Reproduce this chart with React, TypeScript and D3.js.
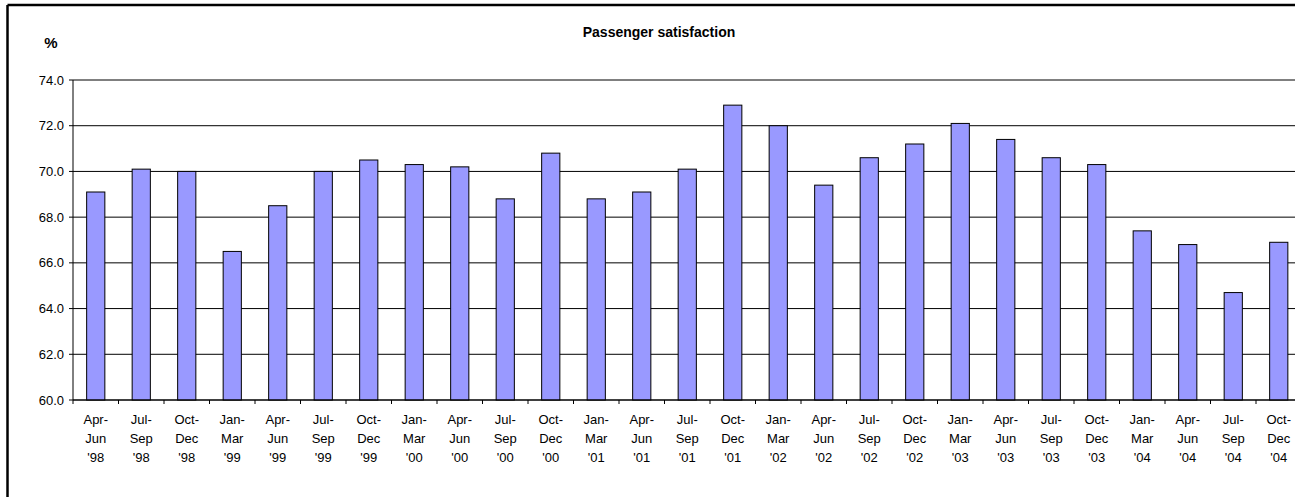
import React from "react";
import * as d3 from "d3";

const periods = [
  "Apr-Jun", "Jul-Sep", "Oct-Dec",
  "Jan-Mar", "Apr-Jun", "Jul-Sep", "Oct-Dec",
  "Jan-Mar", "Apr-Jun", "Jul-Sep", "Oct-Dec",
  "Jan-Mar", "Apr-Jun", "Jul-Sep", "Oct-Dec",
  "Jan-Mar", "Apr-Jun", "Jul-Sep", "Oct-Dec",
  "Jan-Mar", "Apr-Jun", "Jul-Sep", "Oct-Dec",
  "Jan-Mar", "Apr-Jun", "Jul-Sep", "Oct-Dec",
];
const years = [
  "'98", "'98", "'98",
  "'99", "'99", "'99", "'99",
  "'00", "'00", "'00", "'00",
  "'01", "'01", "'01", "'01",
  "'02", "'02", "'02", "'02",
  "'03", "'03", "'03", "'03",
  "'04", "'04", "'04", "'04",
];
const satisfaction = [
  69.1, 70.1, 70.0,
  66.5, 68.5, 70.0, 70.5,
  70.3, 70.2, 68.8, 70.8,
  68.8, 69.1, 70.1, 72.9,
  72.0, 69.4, 70.6, 71.2,
  72.1, 71.4, 70.6, 70.3,
  67.4, 66.8, 64.7, 66.9,
];
const yTicks = [60, 62, 64, 66, 68, 70, 72, 74];
const title = "Passenger satisfaction";
const unitLabel = "%";

export default function App() {
  const left = 73;
  const top = 80;
  const bottom = 400;
  const step = 45.5;
  const right = left + step * periods.length;
  const cats = periods.map((p, i) => `${p} ${years[i]}`);

  const x = d3.scaleBand<string>().domain(cats).range([left, right]).paddingInner(0.6).paddingOuter(0.3);
  const y = d3.scaleLinear().domain([60, 74]).range([bottom, top]);

  const font = "Arial, 'Liberation Sans', sans-serif";

  return (
    <div style={{ position: "fixed", left: 0, top: 0, width: 1295, height: 497, overflow: "hidden", background: "#fff" }}>
      <svg width={1295} height={497} style={{ display: "block" }}>
        <rect x={0} y={0} width={1295} height={497} fill="#fff" />
        {/* outer frame (only top and left edges fall inside the view) */}
        <line x1={7.5} x2={1295} y1={5} y2={5} stroke="#000" strokeWidth={2.5} />
        <line x1={7.5} x2={7.5} y1={5} y2={497} stroke="#000" strokeWidth={2.5} />
        {/* title */}
        <text x={659} y={37} textAnchor="middle" fontFamily={font} fontWeight="bold" fontSize={14} fill="#000">{title}</text>
        <text x={51} y={47.5} textAnchor="middle" fontFamily={font} fontWeight="bold" fontSize={15} fill="#000">{unitLabel}</text>
        {/* gridlines */}
        {yTicks.map((t) => (
          <line key={"g" + t} x1={left} x2={right} y1={y(t)} y2={y(t)} stroke="#000" strokeWidth={1} />
        ))}
        {/* y ticks and labels */}
        {yTicks.map((t) => (
          <g key={"yt" + t}>
            <line x1={left - 4} x2={left} y1={y(t)} y2={y(t)} stroke="#000" strokeWidth={1} />
            <text x={64} y={y(t) + 4.5} textAnchor="end" fontFamily={font} fontSize={13} fill="#000">{d3.format(".1f")(t)}</text>
          </g>
        ))}
        {/* bars */}
        {satisfaction.map((v, i) => (
          <rect
            key={"b" + i}
            x={x(cats[i])!}
            y={y(v)}
            width={x.bandwidth()}
            height={y(60) - y(v)}
            fill="#9999FF"
            stroke="#000"
            strokeWidth={1}
          />
        ))}
        {/* axes lines */}
        <line x1={left} x2={left} y1={top} y2={bottom} stroke="#000" strokeWidth={1} />
        <line x1={left} x2={right} y1={bottom} y2={bottom} stroke="#000" strokeWidth={1} />
        {/* x ticks at category boundaries */}
        {d3.range(periods.length + 1).map((i) => (
          <line key={"xt" + i} x1={left + i * step} x2={left + i * step} y1={bottom} y2={bottom + 4} stroke="#000" strokeWidth={1} />
        ))}
        {/* x labels */}
        {cats.map((c, i) => {
          const cx = x(c)! + x.bandwidth() / 2;
          const [a, b] = periods[i].split("-");
          return (
            <text key={"xl" + i} textAnchor="middle" fontFamily={font} fontSize={13} fill="#000">
              <tspan x={cx} y={424}>{a + "-"}</tspan>
              <tspan x={cx} y={443}>{b}</tspan>
              <tspan x={cx} y={462}>{years[i]}</tspan>
            </text>
          );
        })}
      </svg>
    </div>
  );
}
